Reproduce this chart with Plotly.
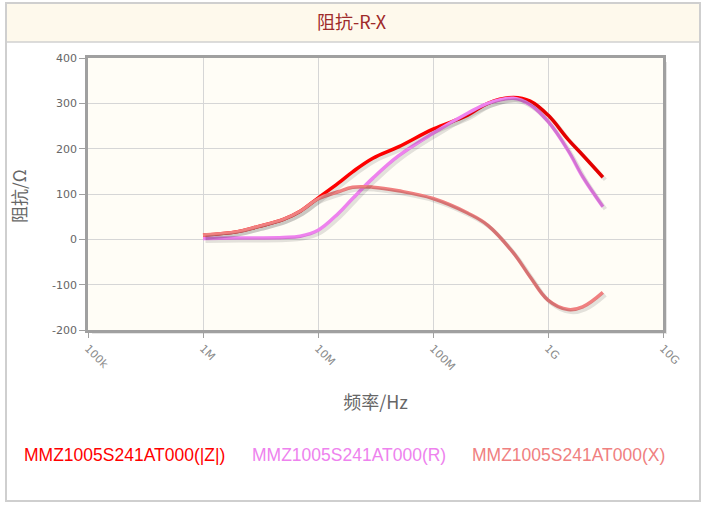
import plotly.graph_objects as go

# ---- data ----
freq_hz = [1e6, 2e6, 3e6, 5e6, 7e6, 1e7, 1.5e7, 2e7, 3e7, 5e7, 1e8, 2e8, 3e8, 5e8, 7e8, 1e9, 1.5e9, 2e9, 3e9]
z_abs = [9, 17, 28, 44, 62, 91, 124, 149, 179, 204, 243, 274, 300, 313, 305, 274, 220, 186, 137]
r_val = [2, 3, 3, 4, 7, 20, 57, 90, 135, 184, 234, 278, 300, 311, 297, 260, 195, 138, 72]
x_val = [9.5, 17, 28, 44, 62, 89, 105, 115, 115, 107, 90, 58, 31, -30, -83, -134, -155, -149, -117]

series_names = ["MMZ1005S241AT000(|Z|)", "MMZ1005S241AT000(R)", "MMZ1005S241AT000(X)"]
series_colors = ["#FF0000", "#EE82EE", "#F08080"]
x_tick_vals = [1e5, 1e6, 1e7, 1e8, 1e9, 1e10]
x_tick_text = ["100k", "1M", "10M", "100M", "1G", "10G"]
y_tick_vals = [-200, -100, 0, 100, 200, 300, 400]
y_tick_text = ["-200", "-100", "0", "100", "200", "300", "400"]

W, H = 701, 507
L, R, T, B = 88, 38, 58, 177
PW, PH = W - L - R, H - T - B

def px(xp):
    return (xp - L) / PW

def py(yp):
    return (H - B - yp) / PH

fig = go.Figure()

series = [z_abs, r_val, x_val]
# shadows (offset axes)
for vals in series:
    fig.add_trace(go.Scatter(x=freq_hz, y=vals, mode="lines", xaxis="x2", yaxis="y2",
                             line=dict(color="rgba(0,0,0,0.11)", width=4, shape="spline", smoothing=1.1),
                             showlegend=False, hoverinfo="skip"))
for vals, name, col in zip(series, series_names, series_colors):
    fig.add_trace(go.Scatter(x=freq_hz, y=vals, mode="lines", name=name,
                             line=dict(color=col, width=3.5, shape="spline", smoothing=1.1),
                             showlegend=False))

shift_dec = 2.5 / (PW / 5)
shift_y = 2.5 / (PH / 600)

fig.update_layout(
    width=W, height=H,
    margin=dict(l=L, r=R, t=T, b=B),
    paper_bgcolor="white",
    plot_bgcolor="rgba(0,0,0,0)",
    xaxis=dict(type="log", range=[5, 10], tickvals=x_tick_vals, ticktext=x_tick_text,
               tickangle=45, tickfont=dict(family="DejaVu Sans", size=11, color="#8A8A8A"),
               showgrid=True, gridcolor="#D6D6D6", gridwidth=1,
               showline=True, linecolor="#A0A0A0", linewidth=2.5, mirror=True,
               ticks="outside", ticklen=5, tickcolor="#A0A0A0", zeroline=False,
               title=dict(text="频率/Hz", font=dict(family="Noto Sans CJK SC", size=18, color="#666666"),
                          standoff=25)),
    yaxis=dict(range=[-200, 400], tickvals=y_tick_vals, ticktext=y_tick_text,
               tickfont=dict(family="DejaVu Sans", size=11, color="#666666"),
               showgrid=True, gridcolor="#D6D6D6", gridwidth=1,
               showline=True, linecolor="#A0A0A0", linewidth=2.5, mirror=True,
               ticks="outside", ticklen=6, tickcolor="#A0A0A0", zeroline=False),
    xaxis2=dict(type="log", range=[5 - shift_dec, 10 - shift_dec], overlaying="x", visible=False),
    yaxis2=dict(range=[-200 + shift_y, 400 + shift_y], overlaying="y", visible=False),
)

shapes = []
# outer frame
shapes.append(dict(type="rect", xref="paper", yref="paper", x0=px(6), x1=px(700), y0=py(501), y1=py(3),
                   line=dict(color="#CFCFCF", width=2), fillcolor="rgba(0,0,0,0)", layer="below"))
# title bar
shapes.append(dict(type="rect", xref="paper", yref="paper", x0=px(7), x1=px(699), y0=py(42), y1=py(4),
                   line=dict(width=0), fillcolor="#FEF9EC", layer="below"))
shapes.append(dict(type="line", xref="paper", yref="paper", x0=px(7), x1=px(699), y0=py(42), y1=py(42),
                   line=dict(color="#D0D0D0", width=1.5)))
# plot area shadow + background
shapes.append(dict(type="rect", xref="paper", yref="paper", x0=px(L + 4), x1=px(W - R + 4), y0=py(H - B + 4), y1=py(T + 4),
                   line=dict(width=0), fillcolor="rgba(0,0,0,0.10)", layer="below"))
shapes.append(dict(type="rect", xref="paper", yref="paper", x0=0, x1=1, y0=0, y1=1,
                   line=dict(width=0), fillcolor="#FFFDF6", layer="below"))
fig.update_layout(shapes=shapes)

annotations = [
    dict(text="阻抗-R-X", xref="paper", yref="paper", x=px(352), y=py(21), showarrow=False,
         xanchor="center", yanchor="middle",
         font=dict(family="Noto Sans CJK SC", size=18, color="#9E2A2A")),
    dict(text="阻抗/Ω", xref="paper", yref="paper", x=px(18), y=py(196), showarrow=False,
         xanchor="center", yanchor="middle", textangle=-90,
         font=dict(family="Noto Sans CJK SC", size=17, color="#666666")),
]
legend_x = [22, 250, 470]
for lx, name, col in zip(legend_x, series_names, series_colors):
    annotations.append(dict(text=name, xref="paper", yref="paper", x=px(lx), y=py(455), showarrow=False,
                            xanchor="left", yanchor="middle",
                            font=dict(family="Liberation Sans", size=17.5, color=col)))
fig.update_layout(annotations=annotations)

fig.write_html("out.html", config={"displayModeBar": False},
               post_script="document.body.style.margin='0px';")
